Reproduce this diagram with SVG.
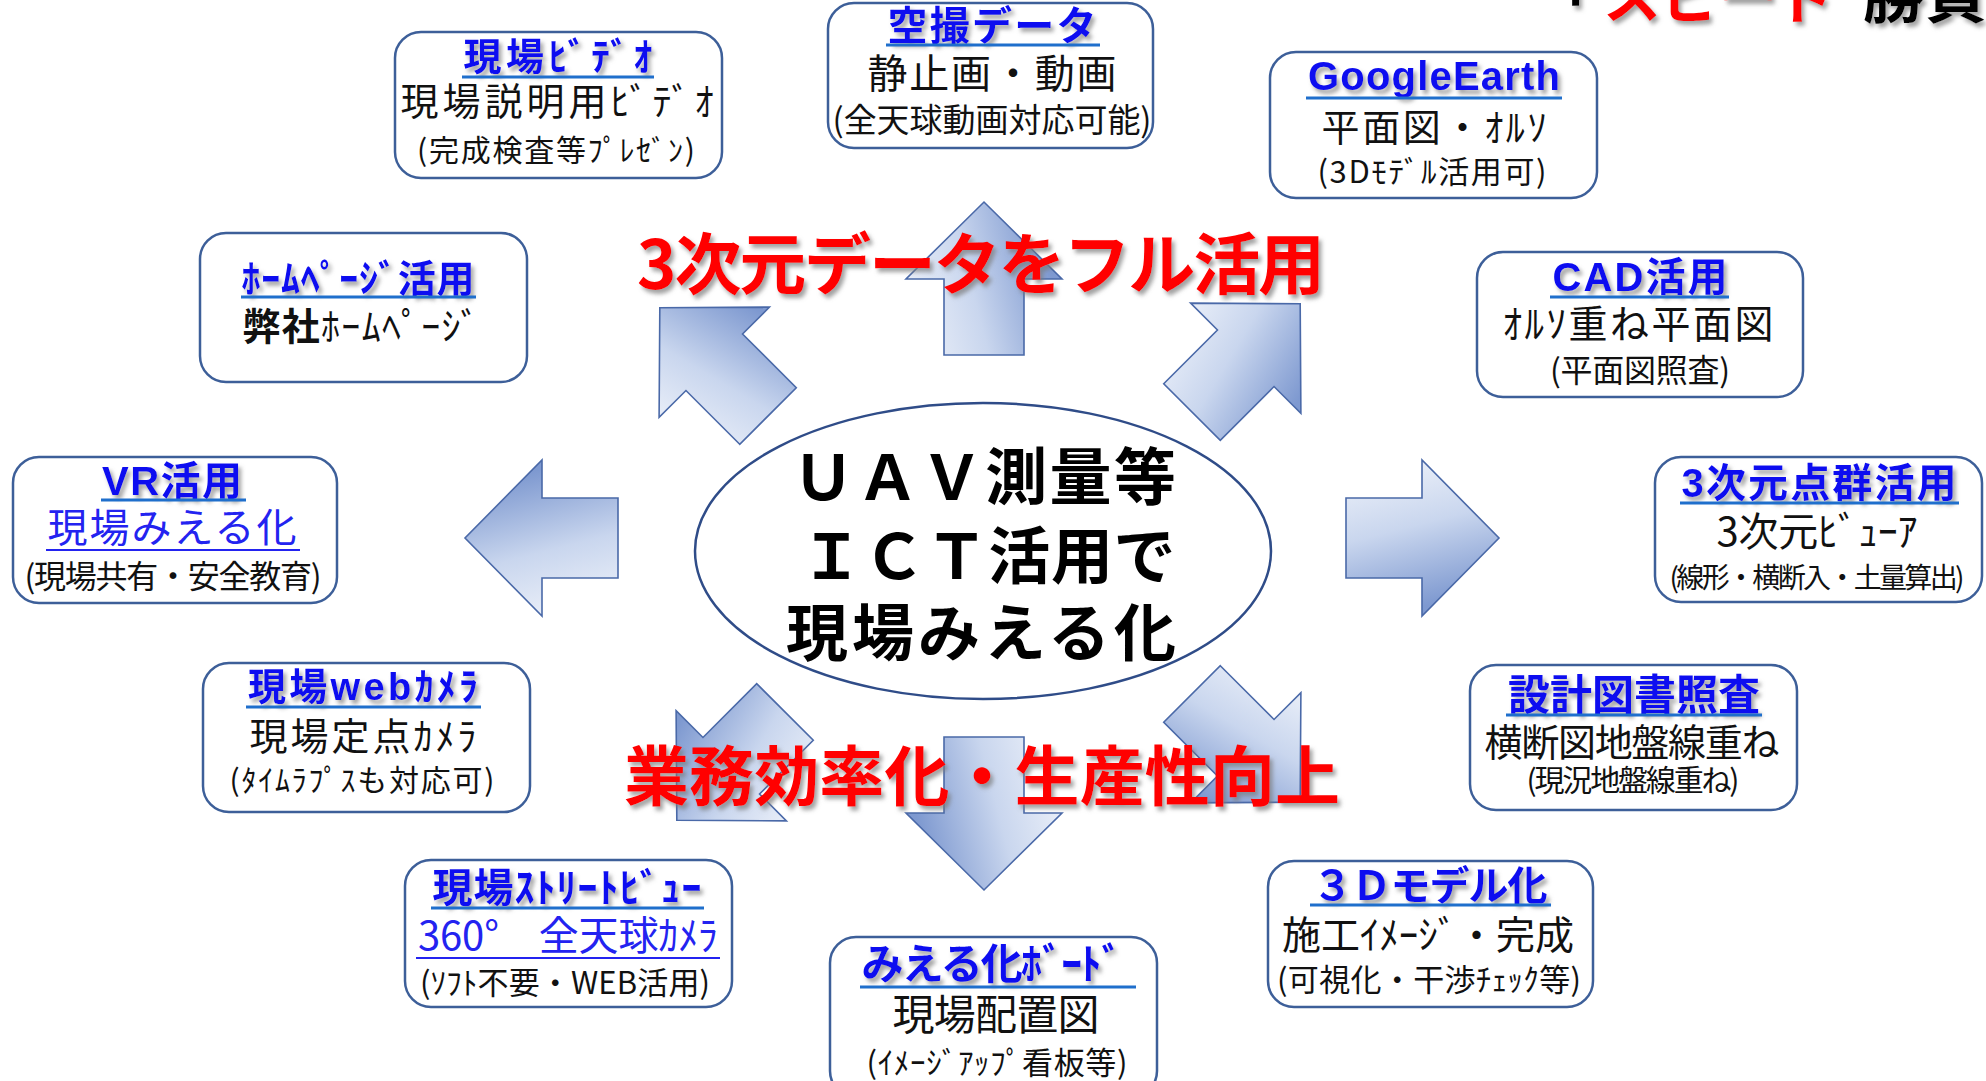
<svg xmlns="http://www.w3.org/2000/svg" width="1986" height="1081" viewBox="0 0 1986 1081">
<defs>
<linearGradient id="ag" gradientUnits="userSpaceOnUse" x1="0" y1="-78" x2="40" y2="78">
<stop offset="0" stop-color="#f2f5fb"/>
<stop offset="0.5" stop-color="#c9d6ee"/>
<stop offset="1" stop-color="#7e99d0"/>
</linearGradient>
<filter id="sh" x="-10%" y="-30%" width="130%" height="170%">
<feGaussianBlur in="SourceAlpha" stdDeviation="2"/>
<feOffset dx="3" dy="4" result="b"/>
<feFlood flood-color="#7a7a7a" flood-opacity="0.7"/>
<feComposite in2="b" operator="in"/>
<feMerge><feMergeNode/><feMergeNode in="SourceGraphic"/></feMerge>
</filter>
<path id="arr" d="M0,-40 L76,-40 L76,-78 L153,0 L76,78 L76,40 L0,40 Z"/>
</defs>
<style>
.box{fill:#fff;stroke:#3d5f99;stroke-width:2.5}
.t{font-family:"Liberation Sans","Noto Sans CJK JP",sans-serif;font-weight:700;fill:#0a0af0;text-anchor:middle;filter:url(#sh)}
.ul{stroke:#1f6fcc;stroke-width:3}
.b{font-family:"Noto Sans CJK JP",sans-serif;font-weight:400;fill:#111;text-anchor:middle}
.bl{font-family:"Noto Sans CJK JP",sans-serif;font-weight:400;fill:#2323f0;text-anchor:middle}
.ul2{stroke:#2323f0;stroke-width:2}
.a{fill:url(#ag);stroke:#4a69a8;stroke-width:1.6}
.red{font-family:"Noto Sans CJK JP",sans-serif;font-weight:700;fill:#ff0000;filter:url(#sh)}
.ctr{font-family:"Noto Sans CJK JP",sans-serif;font-weight:700;fill:#000;text-anchor:middle}
</style>
<rect width="1986" height="1081" fill="#fff"/>

<g id="top-heading">
<text x="1535" y="18" font-family="Noto Sans CJK JP,sans-serif" font-weight="700" font-size="58" filter="url(#sh)"><tspan fill="#000">「</tspan><tspan fill="#ff0000" dx="10">スピード</tspan><tspan fill="#000" dx="28" font-size="62">勝負</tspan></text>
</g>

<g id="connectors">
<use href="#arr" class="a" transform="translate(618,538) rotate(180)"/>
<use href="#arr" class="a" transform="translate(1346,538)"/>
<use href="#arr" class="a" transform="translate(984,355) rotate(-90)"/>
<use href="#arr" class="a" transform="translate(984,737) rotate(90)"/>
<use href="#arr" class="a" transform="translate(768,416) rotate(-135)"/>
<use href="#arr" class="a" transform="translate(1192,412) rotate(-45)"/>
<use href="#arr" class="a" transform="translate(785,712) rotate(135)"/>
<use href="#arr" class="a" transform="translate(1192,694) rotate(45)"/>
</g>

<g id="center">
<ellipse cx="983" cy="551" rx="288" ry="148" fill="#fff" stroke="#2f4c88" stroke-width="2.5"/>
<text class="ctr" x="984" y="500" font-size="62" textLength="384">ＵＡＶ測量等</text>
<text class="ctr" x="988" y="579" font-size="62" textLength="375">ＩＣＴ活用で</text>
<text class="ctr" x="981" y="656" font-size="62" textLength="390">現場みえる化</text>
</g>

<g id="label-top">
<text class="red" x="637" y="289" font-size="67" textLength="688">3次元データをフル活用</text>
</g>
<g id="label-bottom">
<text class="red" x="624" y="800" font-size="65" textLength="716">業務効率化・生産性向上</text>
</g>

<g id="node-video">
<rect class="box" x="395" y="32" width="327" height="146" rx="26"/>
<text class="t" x="558" y="70" font-size="38" textLength="189">現場ﾋﾞﾃﾞｵ</text>
<line class="ul" x1="462" y1="77" x2="654" y2="77"/>
<text class="b" x="557" y="115" font-size="38" textLength="313">現場説明用ﾋﾞﾃﾞｵ</text>
<text class="b" x="556" y="161" font-size="30" textLength="278">(完成検査等ﾌﾟﾚｾﾞﾝ)</text>
</g>

<g id="node-aerial">
<rect class="box" x="828" y="3" width="325" height="145" rx="26"/>
<text class="t" x="992" y="40" font-size="40" textLength="209">空撮データ</text>
<line class="ul" x1="886" y1="45" x2="1100" y2="45"/>
<text class="b" x="992" y="88" font-size="40" textLength="249">静止画・動画</text>
<text class="b" x="992" y="132" font-size="33" textLength="319">(全天球動画対応可能)</text>
</g>

<g id="node-google">
<rect class="box" x="1270" y="52" width="327" height="146" rx="26"/>
<text class="t" x="1434" y="90" font-size="40" textLength="252">GoogleEarth</text>
<line class="ul" x1="1306" y1="98" x2="1562" y2="98"/>
<text class="b" x="1434" y="141" font-size="38" textLength="225">平面図・ｵﾙｿ</text>
<text class="b" x="1432" y="183" font-size="31" textLength="229">(3Dﾓﾃﾞﾙ活用可)</text>
</g>

<g id="node-homepage">
<rect class="box" x="200" y="233" width="327" height="149" rx="26"/>
<text class="t" x="358" y="292" font-size="38" textLength="233">ﾎｰﾑﾍﾟｰｼﾞ活用</text>
<line class="ul" x1="241" y1="297" x2="476" y2="297"/>
<text class="b" x="361" y="340" font-size="38" textLength="237"><tspan font-weight="700">弊社</tspan>ﾎｰﾑﾍﾟｰｼﾞ</text>
</g>

<g id="node-cad">
<rect class="box" x="1477" y="252" width="326" height="145" rx="26"/>
<text class="t" x="1640" y="291" font-size="40" textLength="175">CAD活用</text>
<line class="ul" x1="1550" y1="297" x2="1729" y2="297"/>
<text class="b" x="1638" y="338" font-size="39" textLength="271">ｵﾙｿ重ね平面図</text>
<text class="b" x="1640" y="382" font-size="32" textLength="180">(平面図照査)</text>
</g>

<g id="node-vr">
<rect class="box" x="13" y="457" width="324" height="146" rx="26"/>
<text class="t" x="172" y="495" font-size="40" textLength="140">VR活用</text>
<line class="ul" x1="101" y1="500" x2="246" y2="500"/>
<text class="bl" x="172" y="542" font-size="40" textLength="249">現場みえる化</text>
<line class="ul2" x1="46" y1="550" x2="300" y2="550"/>
<text class="b" x="173" y="588" font-size="32" textLength="297">(現場共有・安全教育)</text>
</g>

<g id="node-pointcloud">
<rect class="box" x="1655" y="457" width="327" height="145" rx="26"/>
<text class="t" x="1819" y="497" font-size="40" textLength="275">3次元点群活用</text>
<line class="ul" x1="1680" y1="503" x2="1959" y2="503"/>
<text class="b" x="1817" y="546" font-size="40" textLength="201">3次元ﾋﾞｭｰｱ</text>
<text class="b" x="1817" y="588" font-size="28" textLength="295">(線形・横断入・土量算出)</text>
</g>

<g id="node-webcam">
<rect class="box" x="203" y="663" width="327" height="149" rx="26"/>
<text class="t" x="363" y="700" font-size="38" textLength="230">現場webｶﾒﾗ</text>
<line class="ul" x1="246" y1="707" x2="481" y2="707"/>
<text class="b" x="363" y="750" font-size="38" textLength="227">現場定点ｶﾒﾗ</text>
<text class="b" x="362" y="791" font-size="30" textLength="265">(ﾀｲﾑﾗﾌﾟｽも対応可)</text>
</g>

<g id="node-design">
<rect class="box" x="1470" y="665" width="327" height="145" rx="26"/>
<text class="t" x="1634" y="710" font-size="42" textLength="252">設計図書照査</text>
<line class="ul" x1="1506" y1="715" x2="1762" y2="715"/>
<text class="b" x="1632" y="756" font-size="38" textLength="295">横断図地盤線重ね</text>
<text class="b" x="1633" y="791" font-size="30" textLength="213">(現況地盤線重ね)</text>
</g>

<g id="node-streetview">
<rect class="box" x="405" y="860" width="327" height="147" rx="26"/>
<text class="t" x="567" y="902" font-size="40" textLength="269">現場ｽﾄﾘｰﾄﾋﾞｭｰ</text>
<line class="ul" x1="431" y1="908" x2="704" y2="908"/>
<text class="bl" x="568" y="950" font-size="40" textLength="300">360°　全天球ｶﾒﾗ</text>
<line class="ul2" x1="416" y1="958" x2="720" y2="958"/>
<text class="b" x="565" y="994" font-size="31" textLength="290">(ｿﾌﾄ不要・WEB活用)</text>
</g>

<g id="node-board">
<rect class="box" x="830" y="937" width="327" height="160" rx="26"/>
<text class="t" x="992" y="979" font-size="42" textLength="261">みえる化ﾎﾞｰﾄﾞ</text>
<line class="ul" x1="860" y1="987" x2="1136" y2="987"/>
<text class="b" x="996" y="1030" font-size="42" textLength="207">現場配置図</text>
<text class="b" x="997" y="1074" font-size="31" textLength="261">(ｲﾒｰｼﾞｱｯﾌﾟ看板等)</text>
</g>

<g id="node-3dmodel">
<rect class="box" x="1268" y="861" width="325" height="146" rx="26"/>
<text class="t" x="1430" y="900" font-size="40" textLength="235">３Ｄモデル化</text>
<line class="ul" x1="1310" y1="905" x2="1551" y2="905"/>
<text class="b" x="1428" y="949" font-size="39" textLength="292">施工ｲﾒｰｼﾞ・完成</text>
<text class="b" x="1429" y="991" font-size="31" textLength="304">(可視化・干渉ﾁｪｯｸ等)</text>
</g>
</svg>
